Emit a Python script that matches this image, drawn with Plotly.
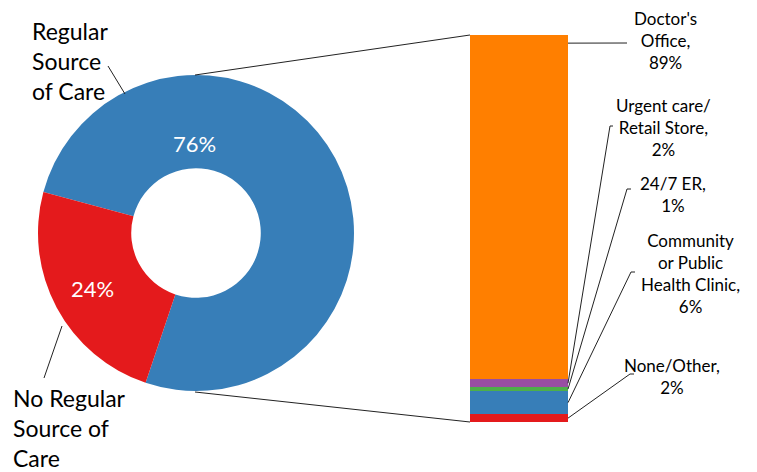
import plotly.graph_objects as go

W, H = 757, 472

# ---- data ----
donut_labels = ["Regular Source of Care", "No Regular Source of Care"]
donut_values = [76, 24]
donut_colors = ["#377EB8", "#E41A1C"]

bar_labels = ["None/Other", "Community or Public Health Clinic", "24/7 ER",
              "Urgent care/ Retail Store", "Doctor's Office"]
bar_values = [2, 6, 1, 2, 89]
bar_colors = ["#E41A1C", "#377EB8", "#4DAF4A", "#984EA3", "#FF7F00"]
bar_texts = ["None/Other,<br>2%", "Community<br>or Public<br>Health Clinic,<br>6%",
             "24/7 ER,<br>1%", "Urgent care/<br>Retail Store,<br>2%",
             "Doctor's<br>Office,<br>89%"]

FONT = "Lato"


def X(px):
    return px / W


def Y(py):
    return 1 - py / H


# layout geometry (pixels)
cx, cy, R = 196, 233, 158
bar_l, bar_r, bar_t, bar_b = 470, 568, 35, 422

fig = go.Figure()

fig.add_trace(go.Pie(
    labels=donut_labels, values=donut_values, hole=0.41, sort=False,
    direction="clockwise", rotation=-75,
    marker=dict(colors=donut_colors, line=dict(width=0)),
    textinfo="none", hoverinfo="label+percent", showlegend=False,
    domain=dict(x=[X(cx - R), X(cx + R)], y=[Y(cy + R), Y(cy - R)]),
))

for lab, v, c in zip(bar_labels, bar_values, bar_colors):
    fig.add_trace(go.Bar(x=[0], y=[v], name=lab, marker=dict(color=c, line=dict(width=0)),
                         width=1, showlegend=False))

ydom = [Y(bar_b), Y(bar_t)]
fig.update_layout(
    width=W, height=H, margin=dict(l=0, r=0, t=0, b=0),
    paper_bgcolor="white", plot_bgcolor="white", barmode="stack",
    xaxis=dict(domain=[X(bar_l), X(bar_r)], range=[-0.5, 0.5], visible=False),
    yaxis=dict(domain=ydom, range=[0, 100], visible=False),
    font=dict(family=FONT, color="black"),
)


def bar_py(v):
    return bar_b - v / 100 * (bar_b - bar_t)


shapes = []
annotations = []
line_style = dict(color="#222222", width=1)

# connector lines from donut to bar
shapes.append(dict(type="line", xref="paper", yref="paper",
                   x0=X(cx - 1), y0=Y(cy - R), x1=X(bar_l), y1=Y(bar_py(sum(bar_values))), line=line_style))
shapes.append(dict(type="line", xref="paper", yref="paper",
                   x0=X(cx - 1), y0=Y(cy + R + 1), x1=X(bar_l), y1=Y(bar_py(0)), line=line_style))

# bar labels with leader lines
label_pos = [(672, 376), (690, 273), (673, 194), (663, 127), (665, 40)]
elbows = [(630, 374, 634), (631, 272, 635), (627, 189, 631), (610, 126, 613), (627, 43, 627)]
cum = 0
for i, v in enumerate(bar_values):
    mid = cum + v / 2 if i < len(bar_values) - 1 else cum + v - 2.1
    cum += v
    ay = bar_py(mid)
    ex, ey, ex2 = elbows[i]
    path = f"M {X(bar_r)} {Y(ay)} L {X(ex)} {Y(ey)} L {X(ex2)} {Y(ey)}"
    shapes.append(dict(type="path", xref="paper", yref="paper", path=path, line=line_style))
    tx, ty = label_pos[i]
    annotations.append(dict(x=X(tx), y=Y(ty), xref="paper", yref="paper", text=bar_texts[i],
                            showarrow=False, xanchor="center", yanchor="middle", align="center",
                            font=dict(size=17, family=FONT, color="black")))

# donut labels
annotations.append(dict(x=X(194), y=Y(143), xref="paper", yref="paper", text=f"{donut_values[0]}%",
                        showarrow=False, xanchor="center", yanchor="middle",
                        font=dict(size=22, color="white", family=FONT)))
annotations.append(dict(x=X(92), y=Y(288), xref="paper", yref="paper", text=f"{donut_values[1]}%",
                        showarrow=False, xanchor="center", yanchor="middle",
                        font=dict(size=22, color="white", family=FONT)))
annotations.append(dict(x=X(30), y=Y(61), xref="paper", yref="paper", text="Regular<br>Source<br>of Care",
                        showarrow=False, xanchor="left", yanchor="middle", align="left",
                        font=dict(size=23, color="black", family=FONT)))
annotations.append(dict(x=X(11), y=Y(428), xref="paper", yref="paper", text="No Regular<br>Source of<br>Care",
                        showarrow=False, xanchor="left", yanchor="middle", align="left",
                        font=dict(size=23, color="black", family=FONT)))
shapes.append(dict(type="line", xref="paper", yref="paper", x0=X(108), y0=Y(66), x1=X(125), y1=Y(94), line=line_style))
shapes.append(dict(type="line", xref="paper", yref="paper", x0=X(44), y0=Y(378), x1=X(62), y1=Y(326), line=line_style))

fig.update_layout(shapes=shapes, annotations=annotations)
fig.write_html("out.html")
